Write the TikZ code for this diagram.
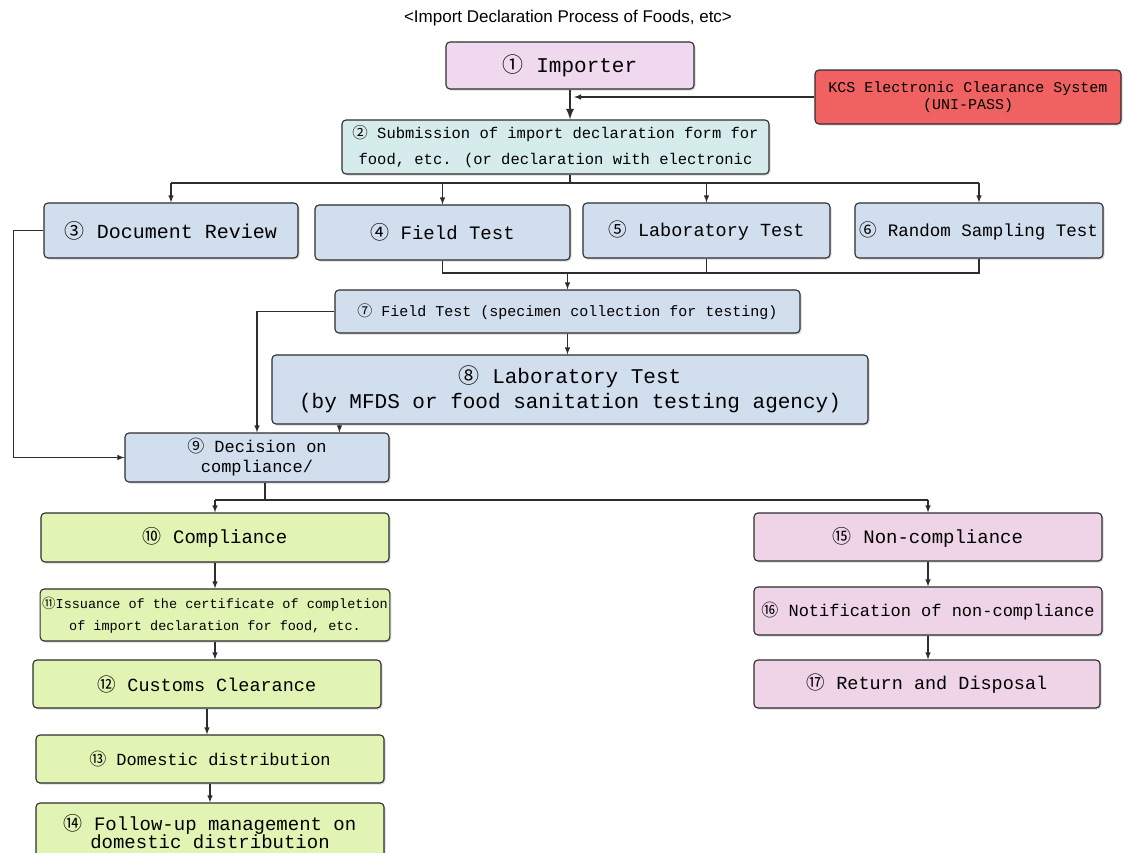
\documentclass[tikz,border=0pt]{standalone}
\usepackage{fontspec}
\setmainfont{Liberation Mono}
\setsansfont{Liberation Sans}
\newfontfamily\cjkfont{Noto Sans CJK KR}
\usepackage{tikz}
\usetikzlibrary{arrows,shadows,calc}
\definecolor{imppink}{RGB}{240, 216, 238}
\definecolor{kcsred}{RGB}{240, 98, 98}
\definecolor{subcyan}{RGB}{214, 236, 236}
\definecolor{testblue}{RGB}{209, 222, 238}
\definecolor{okgreen}{RGB}{226, 244, 180}
\definecolor{ngpink}{RGB}{238, 212, 230}
\definecolor{linegray}{RGB}{45, 45, 45}
\newcommand{\circnum}[1]{{\cjkfont #1}}

\begin{document}
\begin{tikzpicture}[x=1pt, y=-1pt,
    procbox/.style={draw=linegray, line width=1.1pt, rounded corners=4pt, align=center, inner sep=2pt,
        drop shadow={shadow xshift=1.5pt, shadow yshift=-1.5pt, opacity=0.3}},
    link/.style={draw=linegray, line width=1.4pt},
    every node/.style={font=\fontsize{20}{24}\selectfont}]
    \useasboundingbox (0,0) rectangle (1130,852);

    % Title
    \node[font=\sffamily\fontsize{17}{20}\selectfont] (title) at (568,18) {<Import Declaration Process of Foods, etc>};

    % Declaration
    \node[procbox, fill=imppink, minimum width=248pt, minimum height=47pt, font=\fontsize{21}{25}\selectfont] (imp) at (570,65.5) {\circnum{①} Importer};
    \node[procbox, fill=kcsred, minimum width=306pt, minimum height=54pt, font=\fontsize{15}{17}\selectfont] (kcs) at (968,97) {KCS Electronic Clearance System\\(UNI-PASS)};
    \node[procbox, fill=subcyan, minimum width=427pt, minimum height=54pt, font=\fontsize{15.5}{26}\selectfont] (sub) at (555.5,147) {\circnum{②} Submission of import declaration form for\\food, etc. (or declaration with electronic};

    % Inspection types
    \node[procbox, fill=testblue, minimum width=254pt, minimum height=55pt] (doc) at (171,230.5) {\circnum{③} Document Review};
    \node[procbox, fill=testblue, minimum width=255pt, minimum height=55pt, font=\fontsize{19}{23}\selectfont] (fld) at (442.5,232.5) {\circnum{④} Field Test};
    \node[procbox, fill=testblue, minimum width=247pt, minimum height=55pt, font=\fontsize{18.5}{22}\selectfont] (lab) at (706.5,230.5) {\circnum{⑤} Laboratory Test};
    \node[procbox, fill=testblue, minimum width=248pt, minimum height=55pt, font=\fontsize{17.5}{21}\selectfont] (rnd) at (979,230.5) {\circnum{⑥} Random Sampling Test};

    \node[procbox, fill=testblue, minimum width=465pt, minimum height=43pt, font=\fontsize{15}{18}\selectfont] (spc) at (567.5,311.5) {\circnum{⑦} Field Test (specimen collection for testing)};
    \node[procbox, fill=testblue, minimum width=596pt, minimum height=69pt, font=\fontsize{21}{25}\selectfont] (lab2) at (570,389.5) {\circnum{⑧} Laboratory Test\\(by MFDS or food sanitation testing agency)};
    \node[procbox, fill=testblue, minimum width=264pt, minimum height=49pt, font=\fontsize{17}{20}\selectfont] (dec) at (257,457.5) {\circnum{⑨} Decision on\\compliance/};

    % Compliance branch
    \node[procbox, fill=okgreen, minimum width=348pt, minimum height=49pt, font=\fontsize{19}{23}\selectfont] (cmp) at (215,537.5) {\circnum{⑩} Compliance};
    \node[procbox, fill=okgreen, minimum width=348pt, minimum height=52pt, font=\fontsize{13.5}{22}\selectfont] (iss) at (215,615) {\circnum{⑪}Issuance of the certificate of completion\\of import declaration for food, etc.};
    \node[procbox, fill=okgreen, minimum width=348pt, minimum height=48pt, font=\fontsize{18.5}{22}\selectfont] (cus) at (207,684) {\circnum{⑫} Customs Clearance};
    \node[procbox, fill=okgreen, minimum width=348pt, minimum height=48pt, font=\fontsize{17}{20}\selectfont] (dom) at (210,759) {\circnum{⑬} Domestic distribution};
    \node[procbox, fill=okgreen, minimum width=348pt, minimum height=58pt, font=\fontsize{19}{18}\selectfont] (fol) at (210,832) {\circnum{⑭} Follow-up management on\\domestic distribution};

    % Non-compliance branch
    \node[procbox, fill=ngpink, minimum width=348pt, minimum height=48pt, font=\fontsize{19}{23}\selectfont] (non) at (928,537) {\circnum{⑮} Non-compliance};
    \node[procbox, fill=ngpink, minimum width=348pt, minimum height=48pt, font=\fontsize{17}{20}\selectfont] (ntf) at (928,611) {\circnum{⑯} Notification of non-compliance};
    \node[procbox, fill=ngpink, minimum width=346pt, minimum height=48pt, font=\fontsize{18.5}{22}\selectfont] (ret) at (927,684) {\circnum{⑰} Return and Disposal};

    % Bus lines
    \coordinate (topbus) at (570,183);
    \coordinate (midbus) at (572,273);
    \coordinate (lowbus) at (265,500);

    % Connectors
    \draw[link, line width=2.6pt, -latex] (imp.south) -- (imp.south |- sub.north);
    \draw[link, -latex] (kcs.west) -- ([xshift=4pt]kcs.west -| imp.south);
    \draw[link] (sub.south -| topbus) -- (topbus);
    \draw[link] (doc.north |- topbus) -- (rnd.north |- topbus);
    \foreach \n in {doc,fld,lab,rnd}
        \draw[link, -latex] (\n.north |- topbus) -- (\n.north);
    \draw[link] (fld.south) -- (fld.south |- midbus) -- (rnd.south |- midbus) -- (rnd.south);
    \draw[link] (lab.south) -- (lab.south |- midbus);
    \draw[link, -latex] (spc.north |- midbus) -- (spc.north);
    \draw[link, -latex] (spc.south) -- (spc.south |- lab2.north);
    \draw[link, -latex] (spc.west) -| (dec.north);
    \draw[link, -latex] ([xshift=68pt]lab2.south west) -- ([xshift=68pt]lab2.south west |- dec.north);
    \draw[link, -latex] (doc.west) -- ++(-30,0) |- (dec.west);
    \draw[link] (dec.south -| lowbus) -- (lowbus);
    \draw[link] (cmp.north |- lowbus) -- (non.north |- lowbus);
    \foreach \n in {cmp,non}
        \draw[link, -latex] (\n.north |- lowbus) -- (\n.north);
    \foreach \a/\b in {cmp/iss,iss/cus,cus/dom,dom/fol,non/ntf,ntf/ret}
        \draw[link, -latex] (\a.south) -- (\a.south |- \b.north);
\end{tikzpicture}
\end{document}
